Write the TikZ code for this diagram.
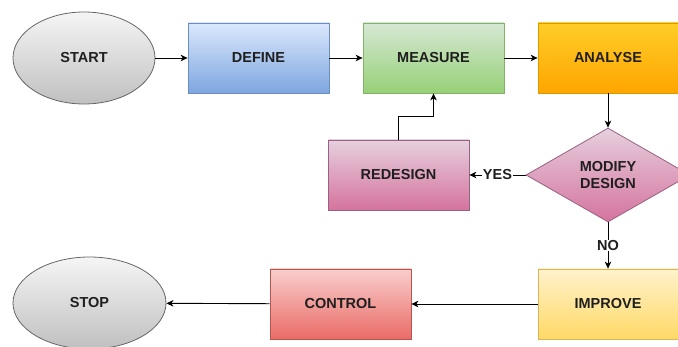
\documentclass[tikz,border=0pt]{standalone}
\usepackage{fontspec}
\setmainfont{Liberation Sans}
\usetikzlibrary{shapes.geometric,arrows.meta,shadings}

% draw.io style palette (top / bottom of each gradient, stroke)
\definecolor{grayT}{HTML}{F5F5F5}\definecolor{grayB}{HTML}{C0C0C0}\definecolor{grayS}{HTML}{666666}
\definecolor{blueT}{HTML}{DAE8FC}\definecolor{blueB}{HTML}{7EA6E0}\definecolor{blueS}{HTML}{6C8EBF}
\definecolor{greenT}{HTML}{D5E8D4}\definecolor{greenB}{HTML}{97D077}\definecolor{greenS}{HTML}{82B366}
\definecolor{orangeT}{HTML}{FFCD28}\definecolor{orangeB}{HTML}{FFA500}\definecolor{orangeS}{HTML}{D79B00}
\definecolor{pinkT}{HTML}{E6D0DE}\definecolor{pinkB}{HTML}{D5739D}\definecolor{pinkS}{HTML}{996185}
\definecolor{redT}{HTML}{F8CECC}\definecolor{redB}{HTML}{EA6B66}\definecolor{redS}{HTML}{B85450}
\definecolor{yellowT}{HTML}{FFF2CC}\definecolor{yellowB}{HTML}{FFD966}\definecolor{yellowS}{HTML}{D6B656}

\tikzset{
  txt/.style={font=\fontsize{14.5}{17}\selectfont\bfseries, text=black!88},
  base/.style={txt, line width=0.8pt, inner sep=0pt},
  terminal/.style={base, ellipse, draw=grayS, top color=grayT, bottom color=grayB},
  stepbox/.style={base, rectangle, minimum width=141, minimum height=70},
  blue/.style={stepbox, draw=blueS, top color=blueT, bottom color=blueB},
  green/.style={stepbox, draw=greenS, top color=greenT, bottom color=greenB},
  orange/.style={stepbox, draw=orangeS, top color=orangeT, bottom color=orangeB},
  pink/.style={stepbox, draw=pinkS, top color=pinkT, bottom color=pinkB},
  red/.style={stepbox, draw=redS, top color=redT, bottom color=redB},
  yellow/.style={stepbox, draw=yellowS, top color=yellowT, bottom color=yellowB},
  decision/.style={base, diamond, aspect=1.75, minimum width=164, minimum height=94,
    draw=pinkS, top color=pinkT, bottom color=pinkB, align=center},
  flow/.style={line width=0.9pt, -{Stealth[length=7pt,width=6.5pt,inset=2pt]}},
  lbl/.style={txt, fill=white, inner sep=0.5pt}
}

\begin{document}
\begin{tikzpicture}[x=1pt, y=-1pt]
  \useasboundingbox (0,0) rectangle (678,347);
  \clip (0,0) rectangle (678,347);

  % process steps
  \node[terminal, minimum width=142, minimum height=92] (start) at (84,58) {START};
  \node[blue]   (define)   at (258.5,58) {DEFINE};
  \node[green]  (measure)  at (433.5,58) {MEASURE};
  \node[orange, minimum width=140] (analyse) at (608,58) {ANALYSE};
  \node[decision] (modify) at (608,175) {MODIFY\\DESIGN};
  \node[pink]   (redesign) at (398.5,175) {REDESIGN};
  \node[yellow, minimum width=140] (improve) at (608,304) {IMPROVE};
  \node[red]    (control)  at (340.5,304) {CONTROL};
  \node[terminal, minimum width=153, minimum height=92] (stop) at (89.5,303) {STOP};

  % connectors
  \draw[flow] (start) -- (define);
  \draw[flow] (define) -- (measure);
  \draw[flow] (measure) -- (analyse);
  \draw[flow] (analyse) -- (modify);
  \draw[flow] (modify) -- node[lbl] {YES} (redesign);
  \draw[flow] (redesign.north) -- ++(0,-23) -| (measure.south);
  \draw[flow] (modify) -- node[lbl] {NO} (improve);
  \draw[flow] (improve) -- (control);
  \draw[flow] (control) -- (stop);
\end{tikzpicture}
\end{document}
